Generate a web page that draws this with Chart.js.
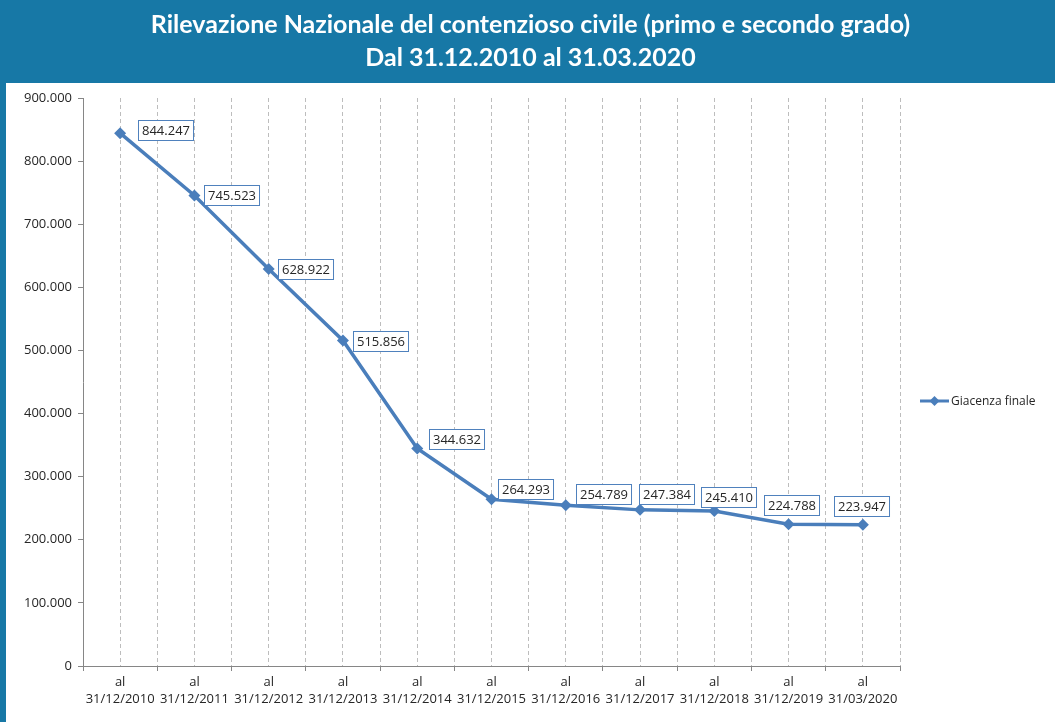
<!DOCTYPE html>
<html>
<head>
<meta charset="utf-8">
<title>Rilevazione Nazionale del contenzioso civile</title>
<script src="https://cdn.jsdelivr.net/npm/chart.js@4/dist/chart.umd.min.js"></script>
<style>
  html, body { margin: 0; padding: 0; background: #fff; }
  #chart { display: block; }
</style>
</head>
<body>
<canvas id="chart" width="1055" height="722"></canvas>
<script>
// ---------- data ----------
const categories = [
  "31/12/2010", "31/12/2011", "31/12/2012", "31/12/2013", "31/12/2014", "31/12/2015",
  "31/12/2016", "31/12/2017", "31/12/2018", "31/12/2019", "31/03/2020"
];
const giacenza = [844247, 745523, 628922, 515856, 344632, 264293, 254789, 247384, 245410, 224788, 223947];
const yTicks = [0, 100000, 200000, 300000, 400000, 500000, 600000, 700000, 800000, 900000];
const seriesName = "Giacenza finale";
const titleLines = [
  "Rilevazione Nazionale del contenzioso civile (primo e secondo grado)",
  "Dal 31.12.2010 al 31.03.2020"
];

// label box placement (dx = box left from point, dy = box centre from point)
const labelOffsets = [[18, -3], [10, 0], [9, 0], [10, 1], [12, -9], [6, -10], [10, -11], [-1, -16], [-13, -14], [-25, -19], [-29, -19]];

const BLUE_HEAD = "#1778a6";
const LINE_BLUE = "#4a7ebb";
const FONT = "'Open Sans', 'DejaVu Sans', sans-serif";

function fmt(n) {
  return String(n).replace(/\B(?=(\d{3})+(?!\d))/g, ".");
}

// header band, left border, value boxes and legend
const decorations = {
  id: "decorations",
  beforeDraw(chart) {
    const c = chart.ctx;
    c.save();
    c.fillStyle = "#fff";
    c.fillRect(0, 0, chart.width, chart.height);
    c.fillStyle = BLUE_HEAD;
    c.fillRect(0, 0, chart.width, 83);
    c.fillRect(0, 0, 6, chart.height);
    c.restore();
  },
  afterDatasetsDraw(chart) {
    const c = chart.ctx;
    const meta = chart.getDatasetMeta(0);
    c.save();
    c.font = "13px " + FONT;
    c.textBaseline = "middle";
    meta.data.forEach((pt, i) => {
      const txt = fmt(giacenza[i]);
      const w = c.measureText(txt).width + 7;
      const h = 20;
      const x = Math.round(pt.x + labelOffsets[i][0]) + 0.5;
      const y = Math.round(pt.y + labelOffsets[i][1] - h / 2) + 0.5;
      c.fillStyle = "#fff";
      c.fillRect(x, y, w, h);
      c.strokeStyle = "#4f81bd";
      c.lineWidth = 1;
      c.strokeRect(x, y, w, h);
      c.fillStyle = "#262626";
      c.textAlign = "left";
      c.fillText(txt, x + 3.5, y + h / 2 + 0.5);
    });

    // legend
    const area = chart.chartArea;
    const lx = area.right + 20;
    const ly = 401;
    c.strokeStyle = LINE_BLUE;
    c.lineWidth = 3;
    c.beginPath();
    c.moveTo(lx, ly);
    c.lineTo(lx + 29, ly);
    c.stroke();
    c.fillStyle = LINE_BLUE;
    c.beginPath();
    c.moveTo(lx + 14.5, ly - 5);
    c.lineTo(lx + 19.5, ly);
    c.lineTo(lx + 14.5, ly + 5);
    c.lineTo(lx + 9.5, ly);
    c.closePath();
    c.fill();
    c.fillStyle = "#262626";
    c.font = "12px " + FONT;
    c.textAlign = "left";
    c.fillText(seriesName, lx + 31, ly + 1);
    c.restore();
  }
};

const ctx = document.getElementById("chart");
new Chart(ctx, {
  type: "line",
  data: {
    datasets: [{
      label: seriesName,
      data: categories.map((c, i) => ({ x: i, y: giacenza[i] })),
      borderColor: LINE_BLUE,
      backgroundColor: LINE_BLUE,
      borderWidth: 3.5,
      pointStyle: "rectRot",
      pointRadius: 6,
      pointBorderWidth: 0,
      tension: 0
    }]
  },
  options: {
    responsive: false,
    animation: false,
    layout: { padding: { left: 6, right: 0, top: 0, bottom: 0 } },
    plugins: {
      legend: { display: false },
      tooltip: { enabled: false },
      title: {
        display: true,
        text: titleLines,
        color: "#fff",
        font: { family: "Lato, 'Open Sans', sans-serif", size: 25, weight: "bold", lineHeight: 1.3 },
        padding: { top: 9, bottom: 24 }
      }
    },
    scales: {
      x: {
        type: "linear",
        min: -0.5,
        max: categories.length - 0.5,
        afterBuildTicks(scale) {
          const t = [];
          for (let v = -0.5; v <= categories.length - 0.5 + 1e-9; v += 0.5) t.push({ value: v });
          scale.ticks = t;
        },
        afterFit(scale) { scale.height = 56; },
        border: { display: true, color: "#868686", width: 1, dash: [4, 3] },
        grid: {
          display: true,
          drawOnChartArea: true,
          color: "#bdbdbd",
          lineWidth: 1,
          tickLength: 5,
          tickColor(ctx) {
            const v = ctx.tick ? ctx.tick.value : 0;
            return Number.isInteger(v) ? "rgba(0,0,0,0)" : "#868686";
          }
        },
        ticks: {
          autoSkip: false,
          maxRotation: 0,
          padding: 3,
          color: "#262626",
          font: { family: FONT, size: 13, lineHeight: 1.3 },
          callback(v) {
            return Number.isInteger(v) ? ["al", categories[v]] : "";
          }
        }
      },
      y: {
        min: 0,
        max: 900000,
        afterBuildTicks(scale) { scale.ticks = yTicks.map(v => ({ value: v })); },
        afterFit(scale) { scale.width = 77; },
        border: { display: true, color: "#868686", width: 1 },
        grid: { drawOnChartArea: false, color: "#868686", tickLength: 5 },
        ticks: {
          padding: 6,
          color: "#262626",
          font: { family: FONT, size: 13 },
          callback(v) { return fmt(v); }
        }
      },
      // empty right-hand axis that keeps room for the legend
      legendSpace: {
        type: "linear",
        position: "right",
        display: true,
        afterFit(scale) { scale.width = 155; },
        border: { display: false },
        grid: { display: false, drawTicks: false },
        ticks: { display: false }
      }
    }
  },
  plugins: [decorations]
});
</script>
</body>
</html>
